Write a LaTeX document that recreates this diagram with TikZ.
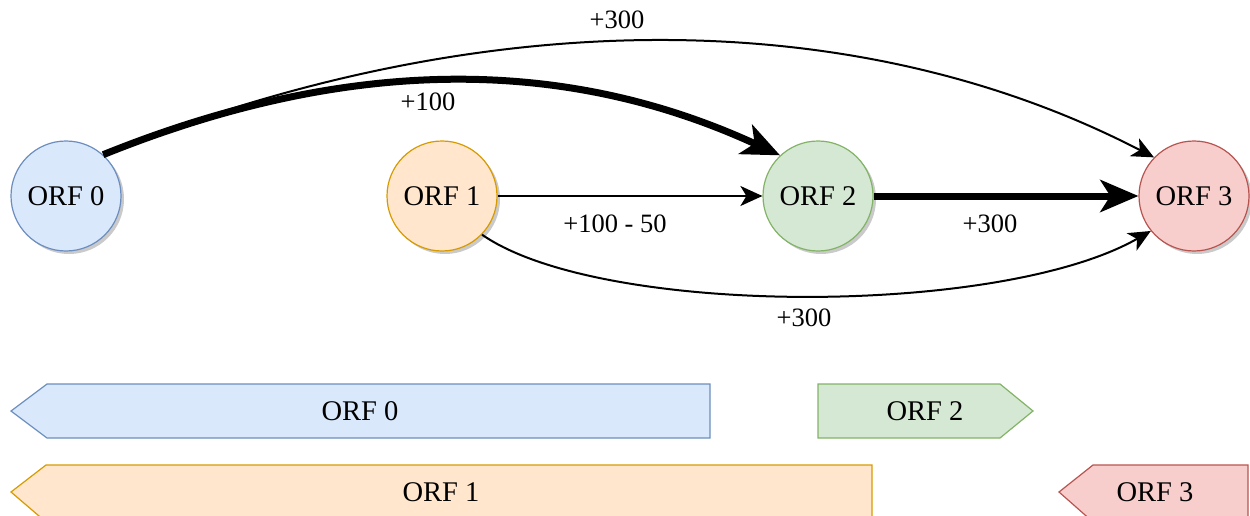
\documentclass[tikz,border=0pt]{standalone}
\usepackage{fontspec}
\setmainfont{Liberation Serif}
\usetikzlibrary{arrows.meta,shadows}
\definecolor{bfill}{HTML}{DAE8FC}\definecolor{bdraw}{HTML}{6C8EBF}
\definecolor{ofill}{HTML}{FFE6CC}\definecolor{odraw}{HTML}{D79B00}
\definecolor{gfill}{HTML}{D5E8D4}\definecolor{gdraw}{HTML}{82B366}
\definecolor{rfill}{HTML}{F8CECC}\definecolor{rdraw}{HTML}{B85450}
\tikzset{
  orf/.style={circle, minimum size=110pt, inner sep=0pt, line width=1.2pt,
    font=\fontsize{28.5}{32}\selectfont,
    drop shadow={shadow xshift=3pt, shadow yshift=-3pt, opacity=0.35, fill=black!60}},
  thin/.style={line width=2pt, -{Stealth[length=22pt,width=20pt,inset=6pt]}},
  thick/.style={line width=7pt, -{Stealth[length=38pt,width=32pt,inset=10pt]}},
  lbl/.style={font=\fontsize{26.5}{30}\selectfont, inner sep=0pt},
  bar/.style={line width=1.2pt},
  bartext/.style={font=\fontsize{28.5}{32}\selectfont, inner sep=0pt}
}
\begin{document}
\begin{tikzpicture}[x=1pt,y=-1pt]
\useasboundingbox (0,0) rectangle (1250,516);
% circles
\node[orf, fill=bfill, draw=bdraw] (o0) at (66,196) {ORF 0};
\node[orf, fill=ofill, draw=odraw] (o1) at (442,196) {ORF 1};
\node[orf, fill=gfill, draw=gdraw] (o2) at (818,196) {ORF 2};
\node[orf, fill=rfill, draw=rdraw] (o3) at (1194,196) {ORF 3};
% edges
\draw[thin] (o0.48) .. controls (474,5) and (850,0) .. (o3.136);
\draw[thick] (o0.48) .. controls (335,61) and (554,51) .. (o2.133);
\draw[thin] (o1.east) -- (o2.west);
\draw[thick] (o2.east) -- (o3.west);
\draw[thin] (o1.-44) .. controls (600,317) and (1000,317) .. (o3.-141);
% labels
\node[lbl] (l1) at (617,20) {+300};
\node[lbl] (l2) at (428,102) {+100};
\node[lbl] (l3) at (615,224) {+100 - 50};
\node[lbl] (l4) at (990,224) {+300};
\node[lbl] (l5) at (804,318) {+300};
% bars
\draw[bar, fill=bfill, draw=bdraw] (11,411) -- (47,384) -- (710,384) -- (710,438) -- (47,438) -- cycle;
\node[bartext] (b0) at (360,411) {ORF 0};
\draw[bar, fill=gfill, draw=gdraw] (818,384) -- (1000,384) -- (1033,411) -- (1000,438) -- (818,438) -- cycle;
\node[bartext] (b2) at (925,411) {ORF 2};
\draw[bar, fill=ofill, draw=odraw] (11,492) -- (46,465) -- (872,465) -- (872,522) -- (46,522) -- cycle;
\node[bartext] (b1) at (441,492) {ORF 1};
\draw[bar, fill=rfill, draw=rdraw] (1059,492) -- (1093,465) -- (1248,465) -- (1248,522) -- (1093,522) -- cycle;
\node[bartext] (b3) at (1155,492) {ORF 3};
\end{tikzpicture}
\end{document}
